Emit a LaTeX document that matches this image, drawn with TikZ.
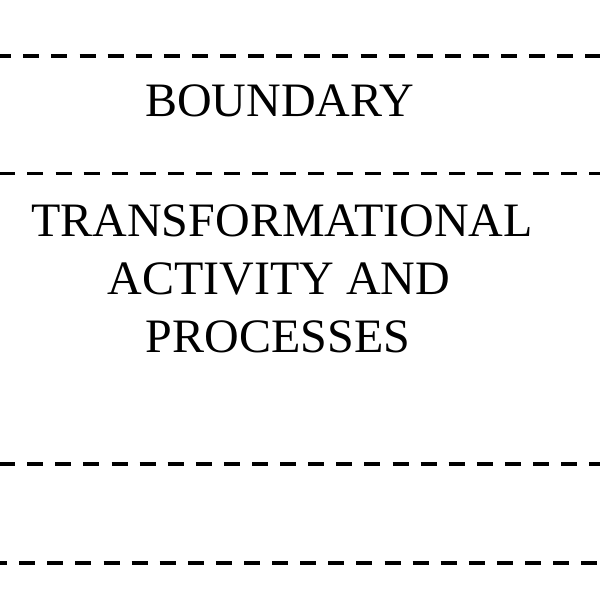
\documentclass[tikz,border=0pt]{standalone}
\usepackage{fontspec}
\setmainfont{Liberation Serif}
\begin{document}
\begin{tikzpicture}[x=1pt,y=-1pt,
  dashline/.style={line width=3.4pt,dash pattern=on 16pt off 12.1pt},
  label/.style={inner sep=0pt,anchor=base,font=\fontsize{48}{58}\selectfont,align=center}]
\useasboundingbox (0,0) rectangle (600,600);
% boundary lines
\coordinate (l1a) at (0,56);  \coordinate (l1b) at (600,56);
\coordinate (l2a) at (0,173.5); \coordinate (l2b) at (600,173.5);
\coordinate (l3a) at (0,464); \coordinate (l3b) at (600,464);
\coordinate (l4a) at (0,563); \coordinate (l4b) at (600,563);
\draw[dashline,dash phase=4.8pt] (l1a) -- (l1b);
\draw[dashline,dash phase=0.7pt] (l2a) -- (l2b);
\draw[dashline,dash phase=0.9pt] (l3a) -- (l3b);
\draw[dashline,dash phase=8.9pt] (l4a) -- (l4b);
% texts
\node[label] (boundary) at (280,116) {BOUNDARY};
\node[label] (t1) at (282,236) {TRANSFORMATIONAL};
\node[label] (t2) at (279,294) {ACTIVITY AND};
\node[label] (t3) at (278,352) {PROCESSES};
\end{tikzpicture}
\end{document}
